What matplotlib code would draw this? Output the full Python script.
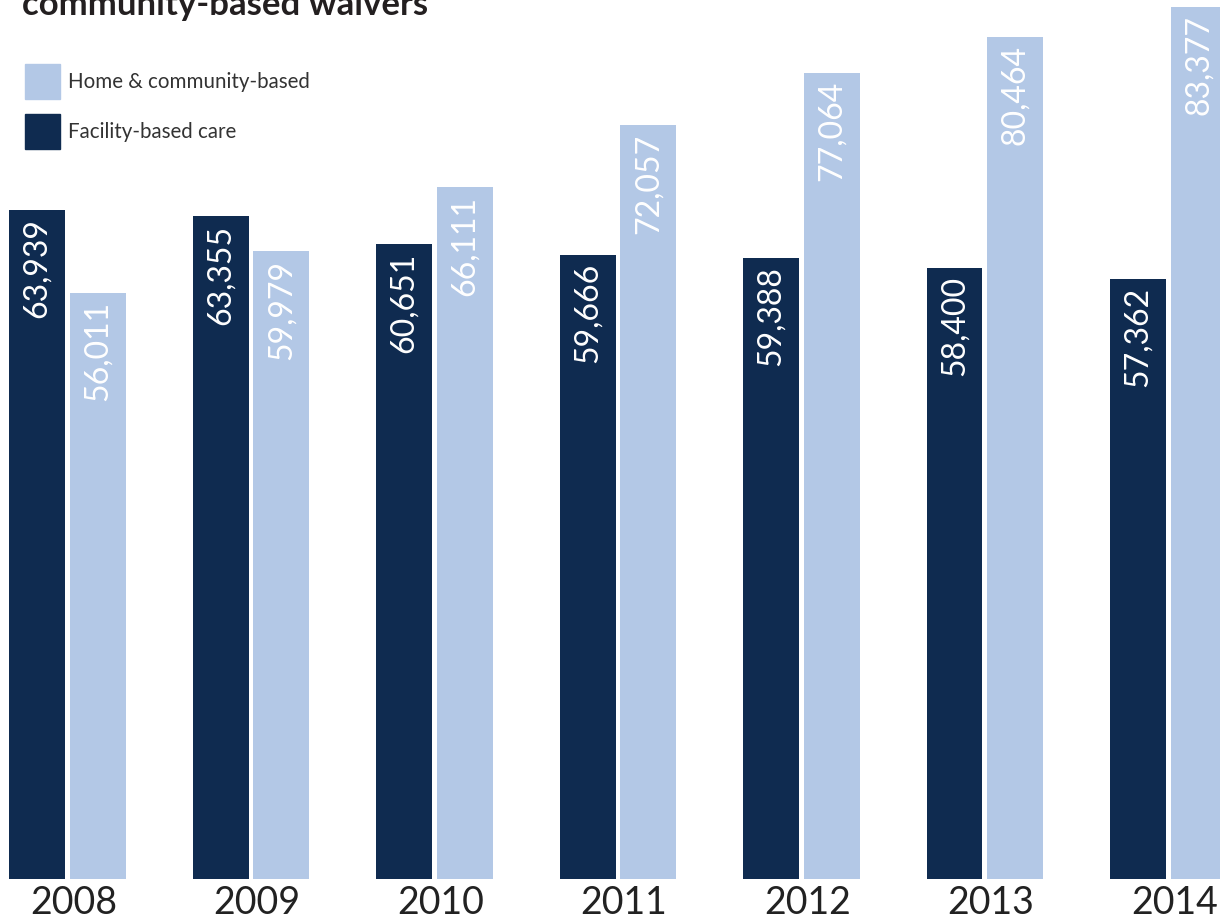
import numpy as np
import matplotlib
matplotlib.use("Agg")
from matplotlib import pyplot as plt
from matplotlib.patches import Rectangle

years = ["2008", "2009", "2010", "2011", "2012", "2013", "2014"]
facility = [63939, 63355, 60651, 59666, 59388, 58400, 57362]
home = [56011, 59979, 66111, 72057, 77064, 80464, 83377]
legend_labels = ["Home & community-based", "Facility-based care"]

dark = "#0f2b50"
light = "#b3c8e6"

plt.rcParams['font.family'] = ['Lato', 'DejaVu Sans']

fig = plt.figure(figsize=(12.2, 9.22), dpi=100)
ax = fig.add_axes([0, 43 / 922, 1, 879 / 922])

x = np.arange(len(years))
w = 0.305
off = 0.166
ax.bar(x - off, facility, w, color=dark)
ax.bar(x + off, home, w, color=light)

for i in range(len(years)):
    ax.annotate("{:,}".format(facility[i]), (x[i] - off, facility[i]), xytext=(0, -6),
                textcoords="offset points", rotation=90, ha="center", va="top",
                color="white", fontsize=23)
    ax.annotate("{:,}".format(home[i]), (x[i] + off, home[i]), xytext=(0, -6),
                textcoords="offset points", rotation=90, ha="center", va="top",
                color="white", fontsize=23)

ax.set_xlim(-0.368, 6.281)
ax.set_ylim(0, 84010)
ax.axis("off")

for i, y in enumerate(years):
    fig.text((67.5 + 183.5 * i + 6) / 1220, 1 - 903 / 922, y, ha="center", va="center",
             fontsize=27, color="#222222")

fig.text(22 / 1220, 1 - 15 / 922, "community-based waivers", ha="left", va="baseline",
         fontsize=25, fontweight="bold", color="#231f20")

# legend drawn by hand (squares + labels)
for k, (lab, col) in enumerate(zip(legend_labels, [light, dark])):
    top = 64 + 50 * k
    fig.patches.append(Rectangle((25 / 1220, 1 - (top + 35) / 922), 35 / 1220, 35 / 922,
                                 transform=fig.transFigure, color=col))
    fig.text(68 / 1220, 1 - (top + 18) / 922, lab, ha="left", va="center",
             fontsize=14.8, color="#333333")

fig.savefig("out.png", dpi=100)
